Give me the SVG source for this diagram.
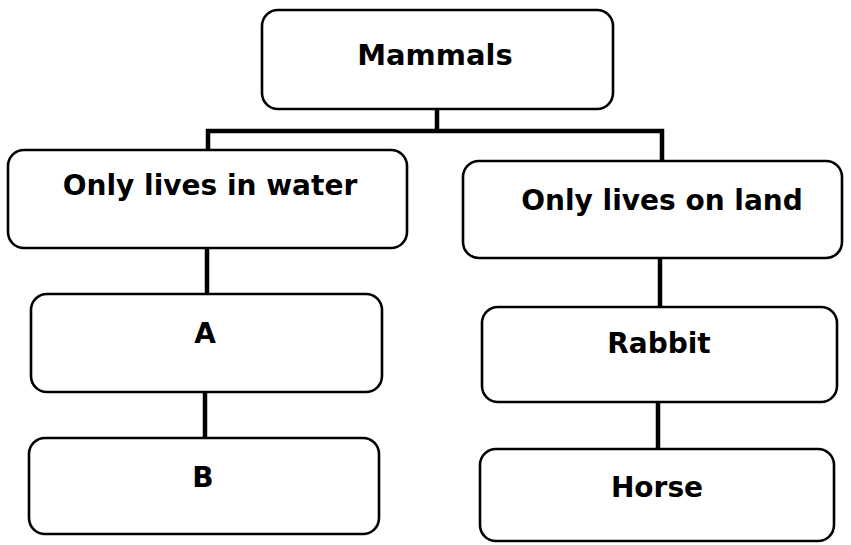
<svg xmlns="http://www.w3.org/2000/svg" width="851" height="545" viewBox="0 0 851 545">
<style>
.box{fill:#fff;stroke:#000;stroke-width:2.6}
.lbl{font-family:"DejaVu Sans","Liberation Sans",sans-serif;font-weight:bold;font-size:28px;fill:#000;text-anchor:middle}
.con{stroke:#000;stroke-width:4.5;fill:none;stroke-linecap:square}
</style>
<rect width="851" height="545" fill="#fff"/>
<g id="connectors">
<path class="con" d="M437 110 V131 M208 131 H662 M208 131 V150 M662 131 V160"/>
<path class="con" d="M207 248 V293"/>
<path class="con" d="M205 393 V437"/>
<path class="con" d="M660 259 V306"/>
<path class="con" d="M658 402 V448"/>
</g>
<g id="mammals">
<rect class="box" x="262" y="10" width="351" height="99" rx="16"/>
<text class="lbl" x="435" y="65" style="font-size:29px">Mammals</text>
</g>
<g id="water">
<rect class="box" x="8" y="150" width="399" height="98" rx="16"/>
<text class="lbl" x="210" y="195">Only lives in water</text>
</g>
<g id="land">
<rect class="box" x="463" y="161" width="379" height="97" rx="16"/>
<text class="lbl" x="662" y="210">Only lives on land</text>
</g>
<g id="a">
<rect class="box" x="31" y="294" width="351" height="98" rx="16"/>
<text class="lbl" x="205" y="343">A</text>
</g>
<g id="b">
<rect class="box" x="29" y="438" width="350" height="96" rx="16"/>
<text class="lbl" x="203" y="487">B</text>
</g>
<g id="rabbit">
<rect class="box" x="482" y="307" width="355" height="95" rx="16"/>
<text class="lbl" x="659" y="353">Rabbit</text>
</g>
<g id="horse">
<rect class="box" x="480" y="449" width="354" height="92" rx="16"/>
<text class="lbl" x="657" y="497">Horse</text>
</g>
</svg>
